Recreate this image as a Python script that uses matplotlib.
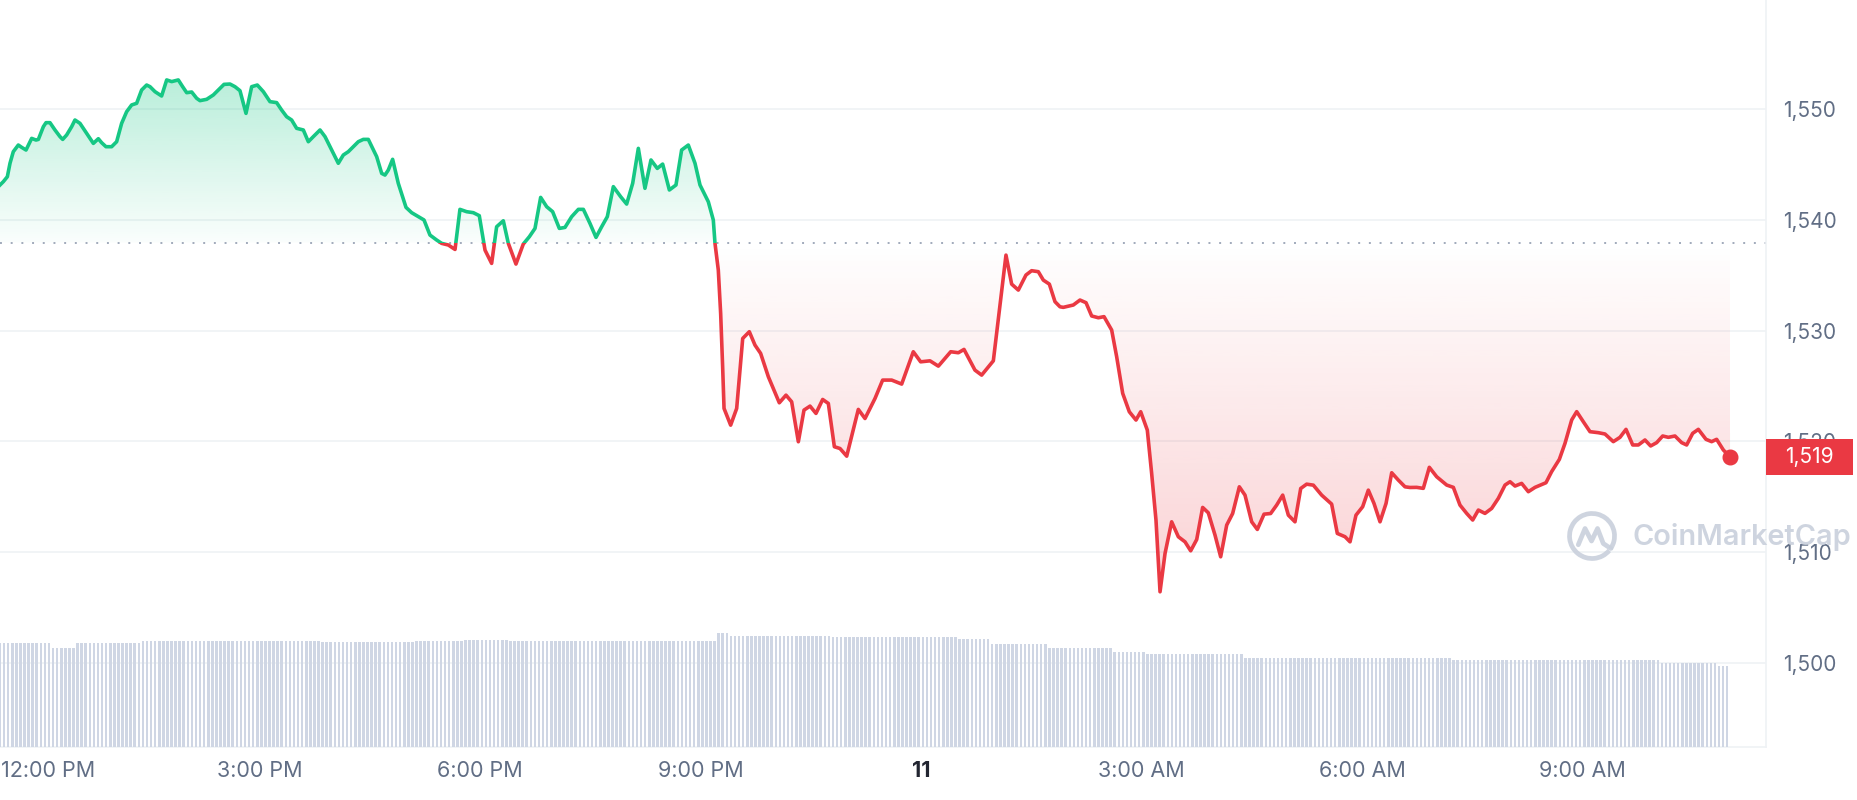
import numpy as np
import matplotlib
matplotlib.use('Agg')
import matplotlib.pyplot as plt
from matplotlib.path import Path
from matplotlib.patches import Rectangle, Arc
from matplotlib.transforms import blended_transform_factory
from matplotlib.colors import to_rgb

plt.rcParams['font.family'] = ['Inter', 'DejaVu Sans']

# Price line: hours since midnight of the 10th (24 = midnight of the 11th)
HOURS = [
    11.469, 11.514, 11.569, 11.605, 11.650, 11.718, 11.764, 11.823, 11.900, 11.959,
    11.991, 12.059, 12.095, 12.149, 12.217, 12.285, 12.322, 12.376, 12.444, 12.489,
    12.557, 12.648, 12.739, 12.807, 12.852, 12.911, 12.988, 13.056, 13.124, 13.192,
    13.260, 13.328, 13.396, 13.464, 13.510, 13.578, 13.668, 13.737, 13.805, 13.895,
    13.954, 14.009, 14.077, 14.145, 14.190, 14.281, 14.371, 14.462, 14.517, 14.598,
    14.666, 14.734, 14.816, 14.893, 14.970, 15.052, 15.142, 15.233, 15.301, 15.369,
    15.437, 15.505, 15.596, 15.664, 15.732, 15.823, 15.891, 15.959, 16.072, 16.140,
    16.208, 16.276, 16.344, 16.412, 16.480,
    16.594, 16.662, 16.707, 16.752, 16.811, 16.888, 16.993, 17.070, 17.161, 17.238,
    17.319, 17.410, 17.478, 17.569, 17.660, 17.727, 17.818, 17.909, 17.990, 18.068,
    18.158, 18.226, 18.317, 18.385, 18.489, 18.589, 18.671, 18.748, 18.825, 18.907,
    18.988, 19.079, 19.156, 19.247, 19.338, 19.406, 19.496, 19.578, 19.655, 19.732,
    19.814, 19.914, 19.995, 20.077, 20.154, 20.244, 20.326, 20.412, 20.485, 20.576,
    20.666, 20.743, 20.834, 20.925,
    20.993, 21.106, 21.174, 21.197, 21.242, 21.274, 21.301, 21.320, 21.410, 21.492,
    21.574, 21.664, 21.741, 21.818, 21.923, 22.072, 22.163, 22.240, 22.331, 22.408,
    22.490, 22.571, 22.662, 22.739, 22.821, 22.898, 22.989, 23.147, 23.238, 23.374,
    23.478, 23.601, 23.737, 23.895, 23.995, 24.122, 24.236, 24.404, 24.508, 24.585,
    24.734, 24.825, 24.984, 25.156, 25.233, 25.324, 25.428, 25.505, 25.596, 25.664,
    25.746, 25.823, 25.891,
    25.936, 26.072, 26.163, 26.245, 26.322, 26.413, 26.490, 26.594, 26.662, 26.744,
    26.834, 26.925, 26.989, 27.079, 27.138, 27.197, 27.252, 27.320, 27.410, 27.501,
    27.592, 27.669, 27.751, 27.832, 27.909, 28.000, 28.077, 28.159, 28.240, 28.331,
    28.408, 28.499, 28.576, 28.667, 28.757, 28.839, 28.921, 28.998, 29.088, 29.166,
    29.247, 29.338, 29.451, 29.587, 29.664, 29.769, 29.837, 29.918, 30.009, 30.086,
    30.163, 30.245, 30.327, 30.404, 30.494, 30.585, 30.653,
    30.744, 30.834, 30.916, 31.016, 31.152, 31.243, 31.333, 31.424, 31.506, 31.583,
    31.673, 31.764, 31.855, 31.946, 32.014, 32.082, 32.172, 32.263, 32.354, 32.503,
    32.580, 32.685, 32.762, 32.853, 32.921, 33.011, 33.102, 33.215, 33.306, 33.419,
    33.510, 33.592, 33.683, 33.760, 33.850, 33.927, 34.009, 34.091, 34.168, 34.258,
    34.349, 34.417, 34.499, 34.576, 34.680, 34.757, 34.825, 34.916, 35.007,
]
PRICE = [
    1543.16, 1543.46, 1543.91, 1545.12, 1546.17, 1546.77, 1546.56, 1546.32, 1547.37, 1547.22,
    1547.28, 1548.43, 1548.79, 1548.79, 1548.13, 1547.53, 1547.28, 1547.68, 1548.43, 1549.03,
    1548.73, 1547.83, 1546.92, 1547.34, 1546.98, 1546.62, 1546.62, 1547.07, 1548.73, 1549.78,
    1550.39, 1550.54, 1551.74, 1552.19, 1552.04, 1551.59, 1551.20, 1552.65, 1552.50, 1552.65,
    1552.04, 1551.50, 1551.56, 1550.99, 1550.78, 1550.90, 1551.29, 1551.89, 1552.25, 1552.28,
    1552.04, 1551.68, 1549.63, 1552.04, 1552.19, 1551.59, 1550.69, 1550.60, 1549.93, 1549.33,
    1549.03, 1548.28, 1548.13, 1547.07, 1547.53, 1548.13, 1547.53, 1546.62, 1545.12, 1545.87,
    1546.17, 1546.62, 1547.07, 1547.28, 1547.28,
    1545.72, 1544.21, 1544.06, 1544.51, 1545.48, 1543.31, 1541.14, 1540.66, 1540.30, 1540.00,
    1538.64, 1538.19, 1537.89, 1537.74, 1537.34, 1540.96, 1540.75, 1540.66, 1540.39, 1537.28,
    1536.08, 1539.39, 1539.93, 1537.89, 1536.02, 1537.83, 1538.49, 1539.24, 1542.04, 1541.20,
    1540.75, 1539.24, 1539.33, 1540.30, 1540.96, 1540.96, 1539.69, 1538.43, 1539.39, 1540.30,
    1543.01, 1542.10, 1541.44, 1543.31, 1546.47, 1542.86, 1545.42, 1544.66, 1545.05, 1542.71,
    1543.16, 1546.32, 1546.77, 1545.12,
    1543.16, 1541.65, 1540.00, 1537.89, 1535.48, 1531.56, 1526.74, 1522.98, 1521.47, 1522.98,
    1529.30, 1529.91, 1528.70, 1527.95, 1525.84, 1523.49, 1524.18, 1523.58, 1519.97, 1522.83,
    1523.19, 1522.53, 1523.79, 1523.43, 1519.52, 1519.36, 1518.67, 1522.89, 1522.07, 1523.88,
    1525.54, 1525.54, 1525.18, 1528.10, 1527.19, 1527.28, 1526.80, 1528.10, 1528.01, 1528.31,
    1526.44, 1525.99, 1527.28, 1536.83, 1534.21, 1533.67, 1535.03, 1535.42, 1535.33, 1534.57,
    1534.21, 1532.62, 1532.16,
    1532.11, 1532.32, 1532.77, 1532.53, 1531.33, 1531.17, 1531.27, 1530.06, 1527.65, 1524.34,
    1522.68, 1521.93, 1522.68, 1521.02, 1517.11, 1512.89, 1506.42, 1509.88, 1512.74, 1511.39,
    1510.93, 1510.12, 1511.14, 1514.04, 1513.55, 1511.54, 1509.58, 1512.44, 1513.49, 1515.90,
    1515.15, 1512.74, 1512.05, 1513.43, 1513.49, 1514.25, 1515.15, 1513.34, 1512.74, 1515.75,
    1516.14, 1516.05, 1515.15, 1514.34, 1511.69, 1511.39, 1510.93, 1513.34, 1514.10, 1515.60,
    1514.40, 1512.74, 1514.40, 1517.17, 1516.51, 1515.90, 1515.84,
    1515.85, 1515.76, 1517.66, 1516.81, 1516.06, 1515.85, 1514.25, 1513.50, 1512.90, 1513.80,
    1513.50, 1513.95, 1514.86, 1516.06, 1516.36, 1515.97, 1516.21, 1515.46, 1515.85, 1516.27,
    1517.27, 1518.38, 1519.83, 1521.94, 1522.69, 1521.78, 1520.88, 1520.79, 1520.67, 1519.98,
    1520.37, 1521.09, 1519.68, 1519.68, 1520.13, 1519.59, 1519.89, 1520.49, 1520.37, 1520.49,
    1519.89, 1519.68, 1520.73, 1521.09, 1520.19, 1519.98, 1520.19, 1519.23, 1518.60,
]
OPEN_PRICE = 1537.95

# 24h volume: level held from each start hour until the next one
VOL_START_HOURS = [11.469, 12.190, 12.517, 13.401, 15.823, 17.116, 17.769, 18.408, 21.238, 21.401,
                   22.762, 24.503, 24.925, 25.714, 26.626, 27.034, 28.367, 31.197, 34.027, 34.857]
VOL_LEVELS = [10.43, 9.93, 10.43, 10.57, 10.50, 10.63, 10.73, 10.65, 11.37, 11.13,
              11.03, 10.80, 10.30, 9.87, 9.53, 9.27, 8.93, 8.70, 8.43, 8.13]

Y_TICKS = [1500, 1510, 1520, 1530, 1540, 1550]
X_TICKS = [12, 15, 18, 21, 24, 27, 30, 33]
X_LABELS = ['12:00 PM', '3:00 PM', '6:00 PM', '9:00 PM', '11', '3:00 AM', '6:00 AM', '9:00 AM']

GREEN = '#16c784'
RED = '#ea3943'
GRAY = '#616e85'
GRID = '#eff2f5'
VOL_COLOR = '#cfd6e4'
WATERMARK = '#c9d0dc'


def gradient_fill(ax, x, y, base, color, above, far_value, a_near, a_far):
    """Fill between line and base with a vertical alpha gradient."""
    mask = y >= base if above else y <= base
    coll = ax.fill_between(x, y, base, where=mask, interpolate=True,
                           facecolor='none', edgecolor='none')
    clip = Path.make_compound_path(*coll.get_paths())
    n = 256
    img = np.zeros((n, 1, 4))
    img[:, 0, :3] = to_rgb(color)
    img[:, 0, 3] = np.linspace(a_near, a_far, n)
    if above:
        lo, hi = base, far_value
    else:
        lo, hi = far_value, base
        img = img[::-1]
    im = ax.imshow(img, extent=[x[0], x[-1], lo, hi], origin='lower', aspect='auto',
                   interpolation='bilinear', zorder=1)
    im.set_clip_path(clip, ax.transData)


hours = np.array(HOURS)
price = np.array(PRICE)

fig = plt.figure(figsize=(18.58, 8.0), dpi=100)
rect = [0.0, 0.06625, 0.9505, 0.93375]
ax = fig.add_axes(rect)
ax_vol = fig.add_axes(rect, sharex=ax)

x_min, x_max = 11.469, 35.497
ax.set_xlim(x_min, x_max)
ax.set_ylim(1492.4, 1559.87)

# Gradient fills
gradient_fill(ax, hours, price, OPEN_PRICE, GREEN, True, price.max(), 0.02, 0.30)
gradient_fill(ax, hours, price, OPEN_PRICE, RED, False, price.min(), 0.0, 0.23)

# Price line, green above the open price, red below
up = ax.plot(hours, price, color=GREEN, lw=2.6, solid_joinstyle='round', zorder=3)[0]
up.set_clip_path(Rectangle((0, OPEN_PRICE), 100, 200, transform=ax.transData))
down = ax.plot(hours, price, color=RED, lw=2.6, solid_joinstyle='round', zorder=3)[0]
down.set_clip_path(Rectangle((0, OPEN_PRICE - 200), 100, 200, transform=ax.transData))

# Open price reference
ax.axhline(OPEN_PRICE, color='#a1aabb', lw=1.4, dashes=(1, 4.5), zorder=2)

# Last price marker and tag
last = price[-1]
ax.plot(hours[-1], last, 'o', ms=10.5, color=RED, zorder=6, clip_on=False)
trans = blended_transform_factory(ax.transAxes, ax.transData)
tag_w = 0.0493
ax.add_patch(Rectangle((1.0, last - 1.6), tag_w, 3.2, transform=trans, facecolor=RED,
                       edgecolor='none', clip_on=False, zorder=10))
ax.text(1.0 + tag_w / 2, last, f'{last:,.0f}', transform=trans, ha='center', va='center',
        color='white', fontsize=15, zorder=11, clip_on=False)

# Axes styling
ax.set_yticks(Y_TICKS, [f'{v:,}' for v in Y_TICKS])
ax.yaxis.tick_right()
ax.tick_params(axis='y', length=0, pad=12, labelsize=15, labelcolor=GRAY)
ax.set_xticks(X_TICKS, [''] + X_LABELS[1:])
ax.tick_params(axis='x', length=0, pad=10, labelsize=15.5, labelcolor=GRAY)
day_label = ax.get_xticklabels()[4]
day_label.set_fontweight('bold')
day_label.set_color('#222531')
# first label is held inside the left edge, as the chart does
ax.annotate(X_LABELS[0], xy=(0, 0), xycoords='axes fraction', xytext=(1, -10),
            textcoords='offset points', ha='left', va='top', fontsize=15.5, color=GRAY)
ax.grid(axis='y', color=GRID, lw=1.2)
ax.grid(axis='x', visible=False)
ax.set_axisbelow(True)
for side in ['left', 'top']:
    ax.spines[side].set_visible(False)
for side in ['right', 'bottom']:
    ax.spines[side].set_color(GRID)
    ax.spines[side].set_linewidth(1.2)

# Volume bars
step = 1 / 18
bar_hours = np.arange(hours[0], hours[-1] + 1e-6, step)
idx = np.searchsorted(VOL_START_HOURS, bar_hours, side='right') - 1
bar_vol = np.array(VOL_LEVELS)[idx]
ax_vol.bar(bar_hours, bar_vol, width=step * 0.62, color=VOL_COLOR, align='center')
ax_vol.set_ylim(0, 74.7)
ax_vol.patch.set_alpha(0)
ax_vol.axis('off')

# CoinMarketCap watermark
fig.text(0.8784, 0.329, 'CoinMarketCap', fontsize=20.8, fontweight='semibold',
         color=WATERMARK, alpha=0.9, ha='left', va='center', zorder=20)
logo = fig.add_axes([0.8434, 0.29875, 0.0269, 0.0625])
logo.set_xlim(-1, 1)
logo.set_ylim(-1, 1)
logo.axis('off')
logo.add_patch(Arc((0, 0), 1.8, 1.8, theta1=-35, theta2=320, lw=3.4, color=WATERMARK, alpha=0.9))
logo.plot([-0.55, -0.28, -0.02, 0.22, 0.45, 0.75], [-0.35, 0.3, -0.2, 0.3, -0.3, -0.5],
          color=WATERMARK, lw=3.4, alpha=0.9, solid_joinstyle='round', solid_capstyle='round')

fig.savefig('out.png', dpi=100)
